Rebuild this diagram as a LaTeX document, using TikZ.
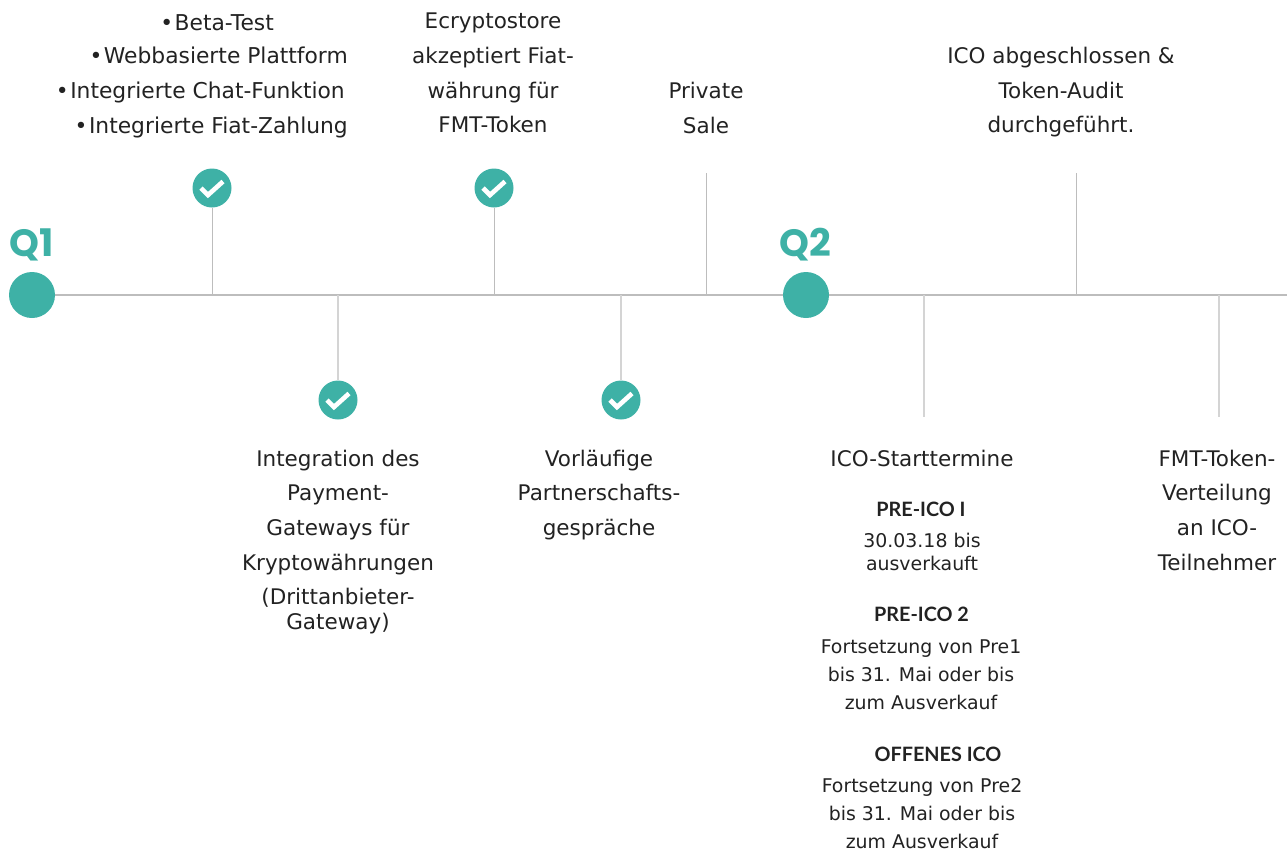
\documentclass[tikz,border=0pt]{standalone}
\usepackage{fontspec}
\setmainfont{DejaVu Sans}
\newfontfamily\headfont{Lato}
\newfontfamily\quarterfont{Poppins}
\usetikzlibrary{positioning}
\definecolor{tealdot}{HTML}{3EB1A6}
\definecolor{axisgray}{HTML}{BDBDBD}
\definecolor{tickgray}{HTML}{D4D4D4}
\definecolor{textgray}{HTML}{222222}
\tikzset{
    bigdot/.style={circle, fill=tealdot, minimum size=46pt, inner sep=0pt},
    checkdot/.style={circle, fill=tealdot, minimum size=39pt, inner sep=0pt,
        path picture={\draw[white, line width=4.6pt] (-11,0) -- (-4,7) -- (11,-6.5);}},
    quarter/.style={text=tealdot, font=\quarterfont\bfseries\fontsize{38}{38}\selectfont, inner sep=0pt},
    axisline/.style={draw=axisgray, line width=1.1pt},
    tickup/.style={draw=axisgray, line width=1pt},
    tickdown/.style={draw=tickgray, line width=1.3pt},
    maintext/.style={text=textgray, align=center, inner sep=0pt, anchor=north,
        font=\fontsize{21.5}{34.7}\selectfont},
    listline/.style={text=textgray, inner sep=0pt, anchor=base east,
        font=\fontsize{21.8}{34.7}\selectfont},
    subhead/.style={text=textgray, inner sep=0pt, anchor=base,
        font=\headfont\bfseries\fontsize{19.8}{18}\selectfont},
    subtext/.style={text=textgray, align=center, inner sep=0pt, anchor=north,
        font=\fontsize{18.9}{28}\selectfont},
}
\begin{document}
\begin{tikzpicture}[x=1pt, y=-1pt]
    \useasboundingbox (0,0) rectangle (1287,852);
    % axis
    \node[bigdot] (q1dot) at (32,295) {};
    \node[bigdot] (q2dot) at (806,295) {};
    \coordinate (axisend) at (1287,295);
    \draw[axisline] (q1dot) -- (q2dot);
    \draw[axisline] (q2dot) -- (axisend);
    \node[quarter] (q1) at (32,245) {Q1};
    \node[quarter] (q2) at (805,245) {Q2};
    % milestones
    \node[checkdot] (beta) at (212,188) {};
    \node[checkdot] (gateway) at (338,400) {};
    \node[checkdot] (store) at (494,188) {};
    \node[checkdot] (partner) at (621,400) {};
    \coordinate (sale) at (706,173);
    \coordinate (start) at (924,417);
    \coordinate (audit) at (1076,173);
    \coordinate (payout) at (1219,417);
    \foreach \up/\x in {beta/212, store/494, sale/706, audit/1076}
        \draw[tickup] (\x,295) -- (\up);
    \foreach \down/\x in {gateway/338, partner/621, start/924, payout/1219}
        \draw[tickdown] (\x,295) -- (\down);
    % texts above
    \node[listline] (betal1) at (274,30) {\textbullet\kern1.5pt Beta-Test};
    \node[listline] (betal2) at (348,63) {\textbullet\kern1.5pt Webbasierte Plattform};
    \node[listline] (betal3) at (345,98) {\textbullet\kern1.5pt Integrierte Chat-Funktion};
    \node[listline] (betal4) at (348,133) {\textbullet\kern1.5pt Integrierte Fiat-Zahlung};
    \node[maintext] (storetext) at (493,13) {Ecryptostore\\akzeptiert Fiat-\\währung für\\FMT-Token};
    \node[maintext] (saletext) at (706,82) {Private\\Sale};
    \node[maintext] (audittext) at (1061,47) {ICO abgeschlossen \&\\Token-Audit\\durchgeführt.};
    % texts below
    \node[maintext] (gatewaytext) at (338,449.5) {Integration des\\Payment-\\Gateways für\\Kryptowährungen\\(Drittanbieter-\\[-10pt]Gateway)};
    \node[maintext] (partnertext) at (599,449.5) {Vorläufige\\Partnerschafts-\\gespräche};
    \node[maintext] (starttext) at (922,449.5) {ICO-Starttermine};
    \node[maintext] (payouttext) at (1217,449.5) {FMT-Token-\\Verteilung\\an ICO-\\Teilnehmer};
    % sale phases
    \node[subhead] (pre1) at (921,516) {PRE-ICO I};
    \node[subtext, font=\fontsize{18.9}{23}\selectfont] (pre1text) at (922,533) {30.03.18 bis\\ausverkauft};
    \node[subhead] (pre2) at (921.5,621) {PRE-ICO 2};
    \node[subtext] (pre2text) at (921,639.5) {Fortsetzung von Pre1\\bis 31. Mai oder bis\\zum Ausverkauf};
    \node[subhead] (open) at (938,761) {OFFENES ICO};
    \node[subtext] (opentext) at (922,778.5) {Fortsetzung von Pre2\\bis 31. Mai oder bis\\zum Ausverkauf};
\end{tikzpicture}
\end{document}
